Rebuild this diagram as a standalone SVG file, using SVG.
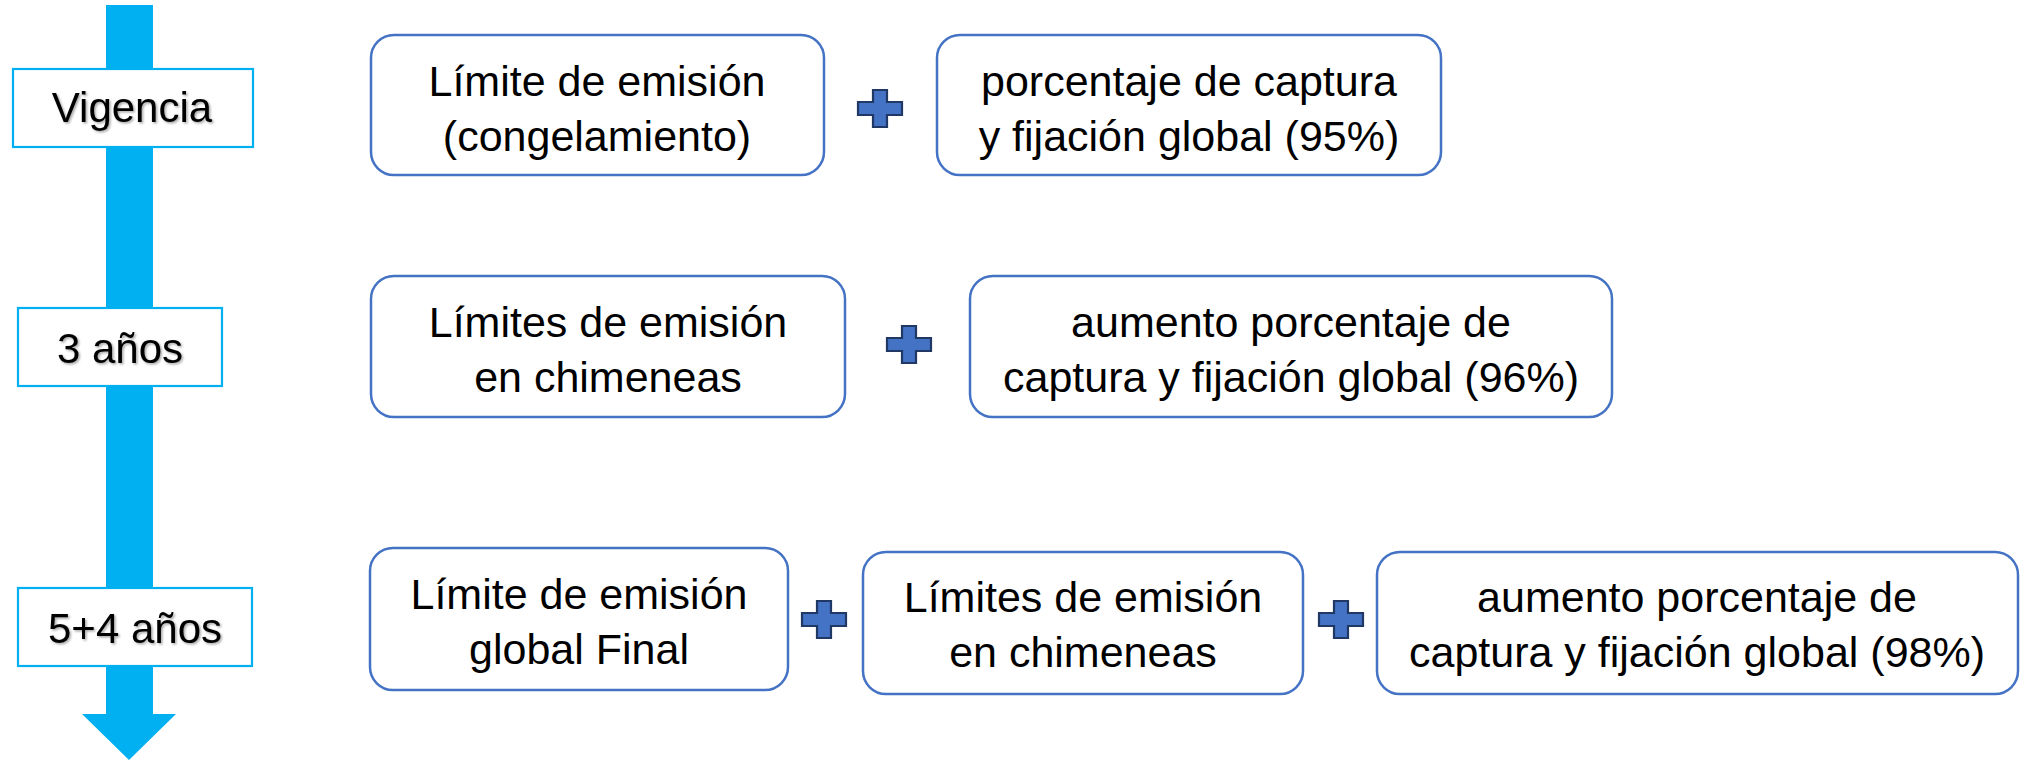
<svg xmlns="http://www.w3.org/2000/svg" xmlns:xlink="http://www.w3.org/1999/xlink" width="2032" height="760" viewBox="0 0 2032 760">
  <style>
    .node rect { fill: #ffffff; stroke: #4472C4; stroke-width: 2.5; }
    .node text { font-family: "Liberation Sans", Arial, sans-serif; font-size: 43px; fill: #000000; text-anchor: middle; }
    .stage rect { fill: #ffffff; stroke: #00B0F0; stroke-width: 2.2; }
    .stage text { font-family: "Liberation Sans", Arial, sans-serif; font-size: 42px; fill: #000000; text-anchor: middle; filter: url(#shadow); }
    .plus { fill: #4472C4; stroke: #1F3864; stroke-width: 2.2; stroke-linejoin: miter; }
  </style>
  <defs>
    <filter id="shadow" x="-10%" y="-20%" width="130%" height="160%">
      <feDropShadow dx="1.5" dy="1.5" stdDeviation="1.2" flood-color="#000000" flood-opacity="0.35"/>
    </filter>
    <path id="plus" d="M15,0 H29 V12 H44 V25 H29 V37 H15 V25 H0 V12 H15 Z"/>
  </defs>
  <rect width="2032" height="760" fill="#ffffff"/>

  <g id="timeline">
    <polygon points="106,5 153,5 153,714 176,714 129,760 82,714 106,714" fill="#00B0F0"/>
  </g>

  <g id="stage-vigencia" class="stage">
    <rect x="13" y="69" width="240" height="78"/>
    <text x="132" y="122">Vigencia</text>
  </g>
  <g id="stage-3" class="stage">
    <rect x="18" y="308" width="204" height="78"/>
    <text x="120" y="363">3 años</text>
  </g>
  <g id="stage-5-4" class="stage">
    <rect x="18" y="588" width="234" height="78"/>
    <text x="135" y="643">5+4 años</text>
  </g>

  <g id="node-limite-congelamiento" class="node">
    <rect x="371" y="35" width="453" height="140" rx="23"/>
    <text x="597" y="96">Límite de emisión</text>
    <text x="597" y="151">(congelamiento)</text>
  </g>
  <g id="node-captura-95" class="node">
    <rect x="937" y="35" width="504" height="140" rx="23"/>
    <text x="1189" y="96">porcentaje de captura</text>
    <text x="1189" y="151">y fijación global (95%)</text>
  </g>

  <g id="node-chimeneas-1" class="node">
    <rect x="371" y="276" width="474" height="141" rx="23"/>
    <text x="608" y="337">Límites de emisión</text>
    <text x="608" y="392">en chimeneas</text>
  </g>
  <g id="node-captura-96" class="node">
    <rect x="970" y="276" width="642" height="141" rx="23"/>
    <text x="1291" y="337">aumento porcentaje de</text>
    <text x="1291" y="392">captura y fijación global (96%)</text>
  </g>

  <g id="node-limite-final" class="node">
    <rect x="370" y="548" width="418" height="142" rx="23"/>
    <text x="579" y="609">Límite de emisión</text>
    <text x="579" y="664">global Final</text>
  </g>
  <g id="node-chimeneas-2" class="node">
    <rect x="863" y="552" width="440" height="142" rx="23"/>
    <text x="1083" y="612">Límites de emisión</text>
    <text x="1083" y="667">en chimeneas</text>
  </g>
  <g id="node-captura-98" class="node">
    <rect x="1377" y="552" width="641" height="142" rx="23"/>
    <text x="1697" y="612">aumento porcentaje de</text>
    <text x="1697" y="667">captura y fijación global (98%)</text>
  </g>

  <g id="connectors">
    <use xlink:href="#plus" href="#plus" class="plus" x="858" y="90"/>
    <use xlink:href="#plus" href="#plus" class="plus" x="887" y="326"/>
    <use xlink:href="#plus" href="#plus" class="plus" x="802" y="601"/>
    <use xlink:href="#plus" href="#plus" class="plus" x="1319" y="601"/>
  </g>
</svg>
